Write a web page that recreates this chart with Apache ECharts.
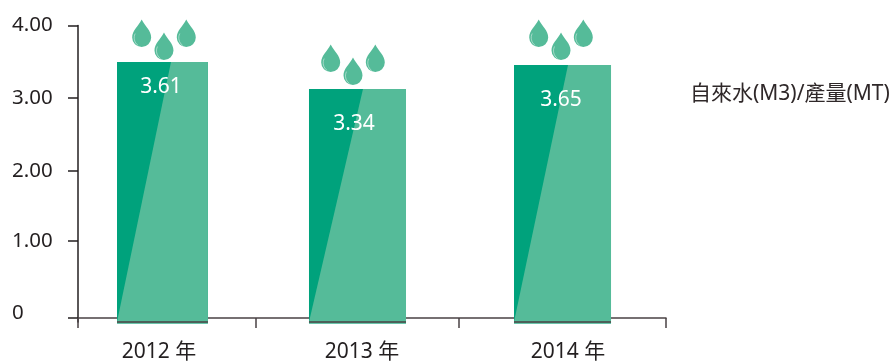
<!DOCTYPE html>
<html>
<head>
<meta charset="utf-8">
<style>
html,body{margin:0;padding:0;background:#fff;}
#container{width:890px;height:363px;}
</style>
<script src="https://cdn.jsdelivr.net/npm/echarts@6/dist/echarts.min.js"></script>
</head>
<body>
<div id="container"></div>
<script>
var categories = ['2012 年', '2013 年', '2014 年'];
var barHeights = [3.5, 3.13, 3.46];
var valueLabels = ['3.61', '3.34', '3.65'];
var yTickLabels = ['0', '1.00', '2.00', '3.00', '4.00'];
var unitName = '自來水(M3)/產量(MT)';

// ticks in the picture are not evenly spaced, so they sit where they were read
var yTickPos = [0, 1.05, 2.01, 3.01, 4];
// the bands are uneven too, so x is a value axis (1 unit = one third of the axis)
var xTicks = [0, 0.908, 1.944, 3];
var xLabelPos = [0.413, 1.449, 2.5];
var barCenters = [0.431, 1.426, 2.472];
var barWidths = [0.464, 0.495, 0.495];
var labelShift = [[-1.5, 25], [-3.5, 35], [-1.5, 35]];
var dropShift = [[1.5, 2], [-4.5, 4], [-1.5, 5]];

var textColor = '#231f20';
var axisColor = '#4a4244';
var fontName = '"Noto Sans", "Noto Sans CJK TC", sans-serif';
var dark = '#00a27c';
var light = '#55bb99';
var dropPath = 'M9.5 0C13 7 19 11 19 18A9.5 9.5 0 0 1 0 18C0 11 6 7 9.5 0Z';
var shinePath = 'M3 0C1 4 2 9 6 12';

function drop(x, y) {
	return [{
		type: 'path',
		shape: {pathData: dropPath, x: x - 9.5, y: y, width: 19, height: 27.5, layout: 'cover'},
		style: {fill: light}
	}, {
		type: 'path',
		shape: {pathData: shinePath, x: x - 7.5, y: y + 14, width: 4, height: 12, layout: 'cover'},
		style: {fill: 'none', stroke: 'rgba(255,255,255,0.45)', lineWidth: 1}
	}];
}

function renderBar(params, api) {
	var i = params.dataIndex;
	var top = api.coord([api.value(0), api.value(1)]);
	var base = api.coord([api.value(0), -0.055]);
	var w = api.size([barWidths[i], 0])[0];
	var left = top[0] - w / 2;
	var bottom = base[1] + 1.5;
	var h = bottom - top[1];
	var split = left + 54;
	var kids = [{
		type: 'rect',
		shape: {x: left, y: top[1], width: w, height: h},
		style: {fill: dark}
	}, {
		type: 'polygon',
		shape: {points: [[left, bottom - 1.5], [split, top[1]], [left + w, top[1]], [left + w, bottom], [left, bottom]]},
		style: {fill: light}
	}, {
		// axis line shows on top of the bar foot
		type: 'line',
		shape: {x1: left, y1: base[1], x2: left + w, y2: base[1]},
		style: {stroke: axisColor, lineWidth: 1.5}
	}, {
		type: 'text',
		style: {
			x: top[0] + labelShift[i][0],
			y: top[1] + labelShift[i][1],
			text: valueLabels[i],
			fill: '#fff',
			font: '21px ' + fontName,
			textAlign: 'center',
			textVerticalAlign: 'middle'
		}
	}];
	var dx = top[0] + dropShift[i][0];
	var dy = top[1] - dropShift[i][1] - 27.5;
	kids = kids.concat(drop(dx - 22.3, dy - 13), drop(dx, dy), drop(dx + 22.3, dy - 13));
	return {type: 'group', children: kids};
}

var myChart = echarts.init(document.getElementById('container'));
var option = {
	animation: false,
	textStyle: {fontFamily: fontName},
	grid: {left: 78, right: 224, top: 25.5, bottom: 41},
	title: {
		text: unitName,
		left: 690,
		top: 84,
		padding: 0,
		textStyle: {fontSize: 21, fontWeight: 'normal', color: '#2f2829', fontFamily: fontName}
	},
	xAxis: {
		type: 'value',
		min: 0,
		max: 3,
		splitLine: {show: false},
		axisLine: {show: true, lineStyle: {color: axisColor, width: 1.5}},
		axisTick: {show: true, length: 10, customValues: xTicks, lineStyle: {color: axisColor, width: 1.5}},
		axisLabel: {
			customValues: xLabelPos,
			margin: 20,
			fontSize: 21,
			color: textColor,
			formatter: function (v) {
				return categories[xLabelPos.indexOf(v)];
			}
		}
	},
	yAxis: {
		type: 'value',
		min: -0.055,
		max: 4,
		splitLine: {show: false},
		axisLine: {show: true, lineStyle: {color: textColor, width: 1.5}},
		axisTick: {show: true, length: 10, customValues: yTickPos, lineStyle: {color: textColor, width: 1.5}},
		axisLabel: {
			customValues: yTickPos,
			margin: 66,
			align: 'left',
			fontSize: 20.5,
			color: textColor,
			formatter: function (v) {
				var s = yTickLabels[yTickPos.indexOf(v)];
				return v === 0 ? '{zero|' + s + '}' : s;
			},
			rich: {zero: {fontSize: 20.5, color: textColor, padding: [0, 0, 9, 0]}}
		}
	},
	series: [{
		type: 'custom',
		clip: false,
		renderItem: renderBar,
		encode: {x: 0, y: 1},
		data: barCenters.map(function (c, i) {
			return [c, barHeights[i]];
		})
	}]
};
myChart.setOption(option);
</script>
</body>
</html>
